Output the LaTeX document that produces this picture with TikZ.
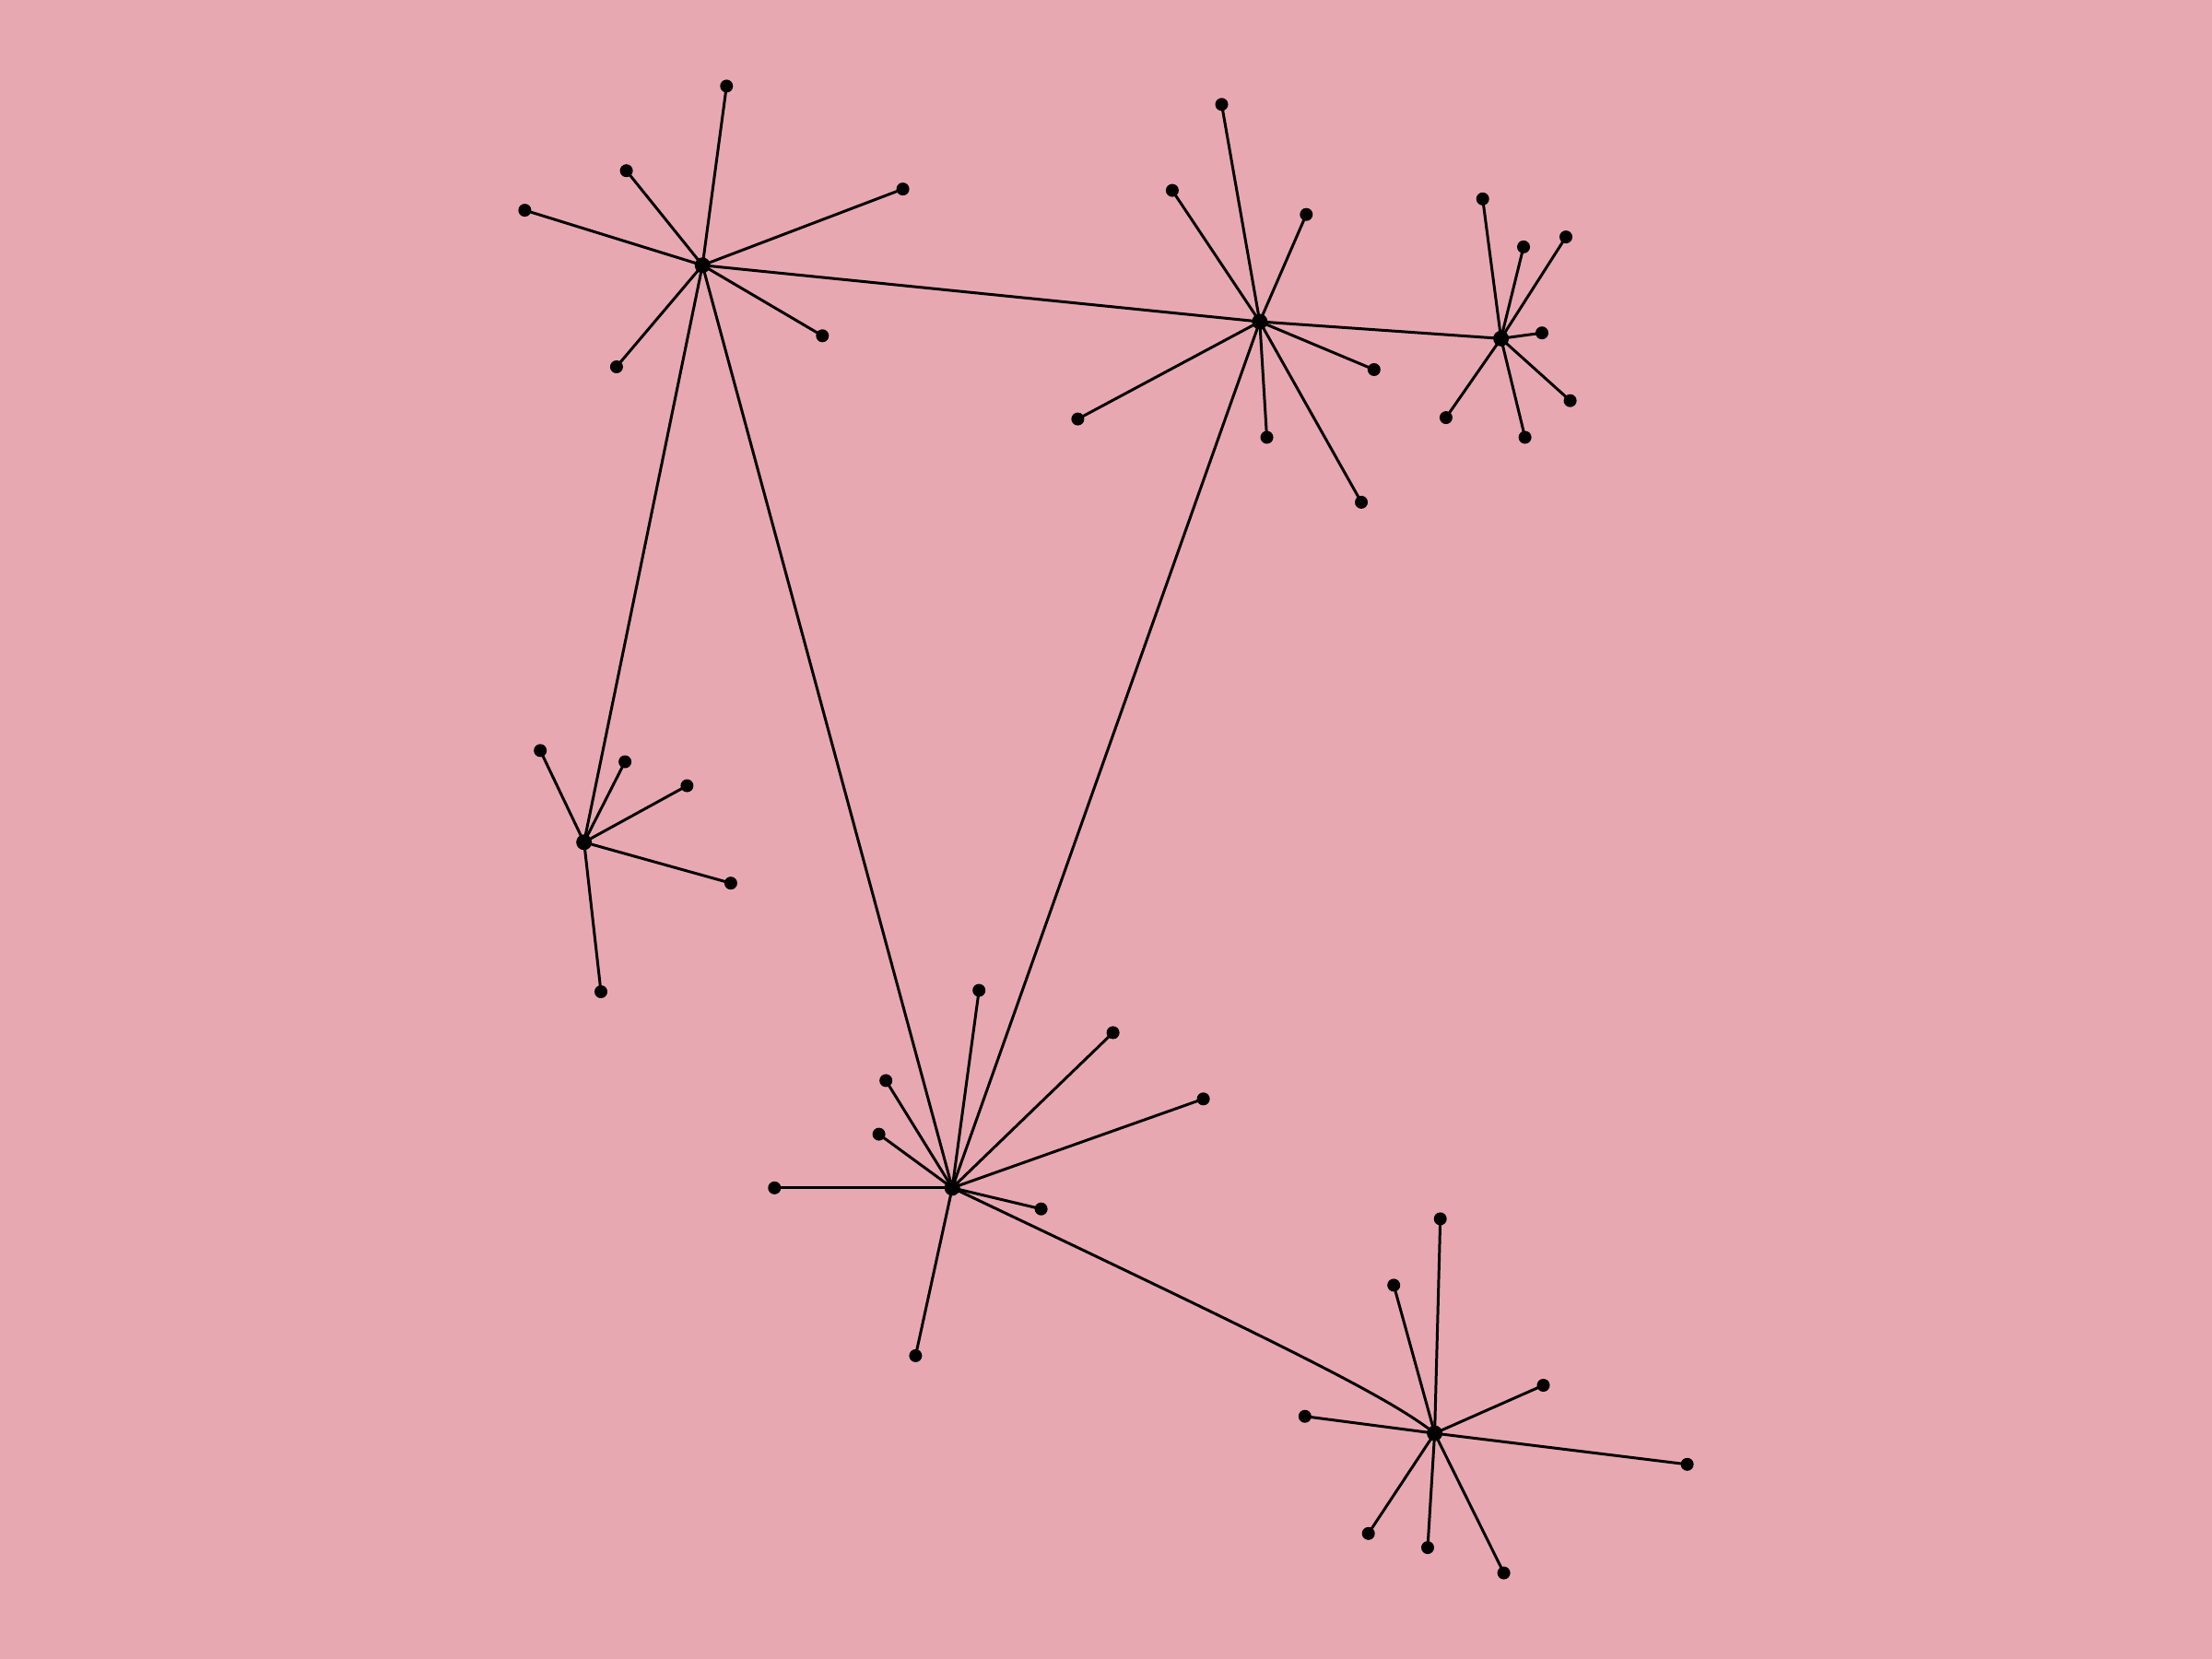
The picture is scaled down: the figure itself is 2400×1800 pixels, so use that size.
\documentclass[tikz,border=0pt]{standalone}
\definecolor{bgpink}{RGB}{232,168,178}
\begin{document}
\begin{tikzpicture}[x=0.01cm,y=-0.01cm,
  hub/.style={circle,fill=black,inner sep=0pt,minimum size=0.17cm},
  leaf/.style={circle,fill=black,inner sep=0pt,minimum size=0.14cm},
  edge/.style={line width=0.85pt,black}]
\fill[bgpink] (0,0) rectangle (2400,1800);
\useasboundingbox (0,0) rectangle (2400,1800);
% hubs
\node[hub] (A) at (762.2,287.8) {};
\node[hub] (B) at (1366.8,349.0) {};
\node[hub] (C) at (1628.6,367.3) {};
\node[hub] (D) at (633.7,913.8) {};
\node[hub] (E) at (1033.2,1288.8) {};
\node[hub] (F) at (1556.6,1555.1) {};
% leaves A
\node[leaf] (a1) at (788.3,93.4) {};
\node[leaf] (a2) at (679.6,185.2) {};
\node[leaf] (a3) at (569.4,228.1) {};
\node[leaf] (a4) at (979.6,205.1) {};
\node[leaf] (a5) at (668.9,398.0) {};
\node[leaf] (a6) at (892.3,364.3) {};
% leaves B
\node[leaf] (b1) at (1325.5,113.3) {};
\node[leaf] (b2) at (1271.9,206.6) {};
\node[leaf] (b3) at (1417.3,232.7) {};
\node[leaf] (b4) at (1490.8,401.0) {};
\node[leaf] (b5) at (1169.4,454.6) {};
\node[leaf] (b6) at (1374.5,474.5) {};
\node[leaf] (b7) at (1477.0,544.9) {};
% leaves C
\node[leaf] (c1) at (1608.7,215.8) {};
\node[leaf] (c2) at (1653.0,267.9) {};
\node[leaf] (c3) at (1699.0,257.1) {};
\node[leaf] (c4) at (1673.0,361.2) {};
\node[leaf] (c5) at (1703.6,434.7) {};
\node[leaf] (c6) at (1654.6,474.5) {};
\node[leaf] (c7) at (1568.9,453.1) {};
% leaves D
\node[leaf] (d1) at (586.2,814.3) {};
\node[leaf] (d2) at (678.1,826.5) {};
\node[leaf] (d3) at (745.4,852.5) {};
\node[leaf] (d4) at (792.9,958.2) {};
\node[leaf] (d5) at (652.0,1076.0) {};
% leaves E
\node[leaf] (e1) at (1062.2,1074.5) {};
\node[leaf] (e2) at (1207.6,1120.4) {};
\node[leaf] (e3) at (1305.6,1192.3) {};
\node[leaf] (e4) at (961.2,1172.4) {};
\node[leaf] (e5) at (953.6,1230.6) {};
\node[leaf] (e6) at (840.3,1288.8) {};
\node[leaf] (e7) at (1129.6,1311.7) {};
\node[leaf] (e8) at (993.4,1470.9) {};
% leaves F
\node[leaf] (f1) at (1562.7,1322.4) {};
\node[leaf] (f2) at (1512.2,1394.4) {};
\node[leaf] (f3) at (1674.5,1503.0) {};
\node[leaf] (f4) at (1415.8,1536.7) {};
\node[leaf] (f5) at (1830.6,1588.8) {};
\node[leaf] (f6) at (1484.7,1663.8) {};
\node[leaf] (f7) at (1549.0,1679.1) {};
\node[leaf] (f8) at (1631.6,1706.6) {};
% edges
\foreach \l in {a1,a2,a3,a4,a5,a6} \draw[edge] (A.center) -- (\l.center);
\foreach \l in {b1,b2,b3,b4,b5,b6,b7} \draw[edge] (B.center) -- (\l.center);
\foreach \l in {c1,c2,c3,c4,c5,c6,c7} \draw[edge] (C.center) -- (\l.center);
\foreach \l in {d1,d2,d3,d4,d5} \draw[edge] (D.center) -- (\l.center);
\foreach \l in {e1,e2,e3,e4,e5,e6,e7,e8} \draw[edge] (E.center) -- (\l.center);
\foreach \l in {f1,f2,f3,f4,f5,f6,f7,f8} \draw[edge] (F.center) -- (\l.center);
\draw[edge] (A.center) -- (B.center);
\draw[edge] (B.center) -- (C.center);
\draw[edge] (A.center) -- (D.center);
\draw[edge] (A.center) -- (E.center);
\draw[edge] (B.center) -- (E.center);
\draw[edge] (E.center) .. controls (1400,1463) and (1507,1516) .. (F.center);
\end{tikzpicture}
\end{document}
